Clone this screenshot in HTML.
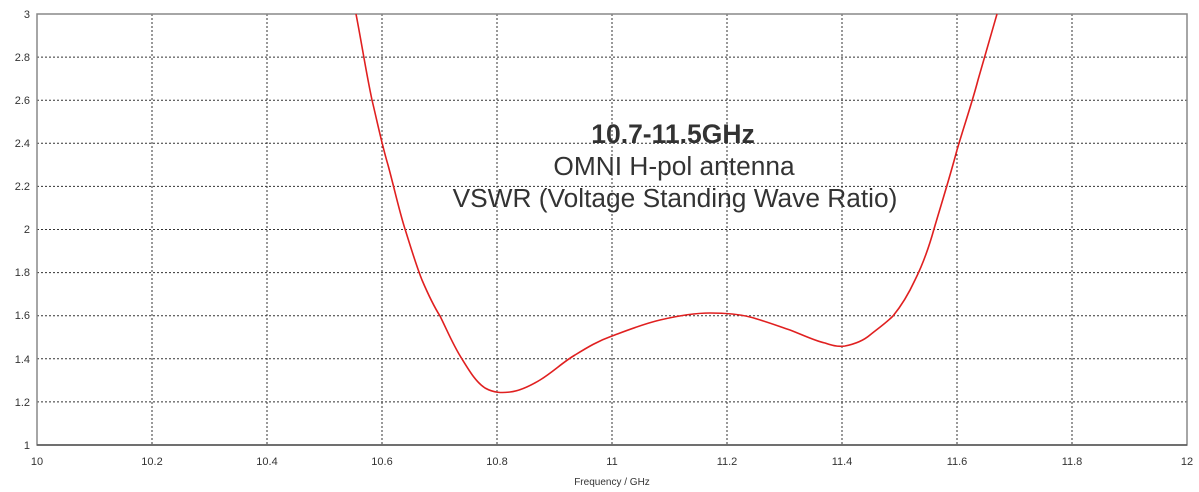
<!DOCTYPE html><html><head><style>body{margin:0;background:#fff}svg{display:block}text{font-family:"Liberation Sans",sans-serif}</style></head><body>
<svg width="1199" height="492" xmlns="http://www.w3.org/2000/svg">
<rect width="1199" height="492" fill="#fff"/>
<g stroke="#333" stroke-width="1" stroke-dasharray="2,2">
<line x1="152" y1="14" x2="152" y2="445"/><line x1="267" y1="14" x2="267" y2="445"/><line x1="382" y1="14" x2="382" y2="445"/><line x1="497" y1="14" x2="497" y2="445"/><line x1="612" y1="14" x2="612" y2="445"/><line x1="727" y1="14" x2="727" y2="445"/><line x1="842" y1="14" x2="842" y2="445"/><line x1="957" y1="14" x2="957" y2="445"/><line x1="1072" y1="14" x2="1072" y2="445"/>
<line x1="37" y1="57.1" x2="1187" y2="57.1"/><line x1="37" y1="100.2" x2="1187" y2="100.2"/><line x1="37" y1="143.3" x2="1187" y2="143.3"/><line x1="37" y1="186.4" x2="1187" y2="186.4"/><line x1="37" y1="229.5" x2="1187" y2="229.5"/><line x1="37" y1="272.6" x2="1187" y2="272.6"/><line x1="37" y1="315.7" x2="1187" y2="315.7"/><line x1="37" y1="358.8" x2="1187" y2="358.8"/><line x1="37" y1="401.9" x2="1187" y2="401.9"/>
</g>
<rect x="37" y="14" width="1150" height="431" fill="none" stroke="#888" stroke-width="1.5"/>
<line x1="37" y1="445" x2="1187" y2="445" stroke="#555" stroke-width="1.5"/>
<g font-size="11" fill="#333" text-anchor="end">
<text x="30" y="18">3</text><text x="30" y="61">2.8</text><text x="30" y="104">2.6</text><text x="30" y="147">2.4</text><text x="30" y="190">2.2</text><text x="30" y="233">2</text><text x="30" y="276">1.8</text><text x="30" y="319">1.6</text><text x="30" y="363">1.4</text><text x="30" y="406">1.2</text><text x="30" y="449">1</text>
</g>
<g font-size="11" fill="#333" text-anchor="middle">
<text x="37" y="465">10</text><text x="152" y="465">10.2</text><text x="267" y="465">10.4</text><text x="382" y="465">10.6</text><text x="497" y="465">10.8</text><text x="612" y="465">11</text><text x="727" y="465">11.2</text><text x="842" y="465">11.4</text><text x="957" y="465">11.6</text><text x="1072" y="465">11.8</text><text x="1187" y="465">12</text>
<text x="612" y="485" font-size="10">Frequency / GHz</text>
</g>
<g text-anchor="middle" fill="#333">
<text x="673" y="143" font-size="26.5" font-weight="bold">10.7-11.5GHz</text>
<text x="674" y="175" font-size="26.3">OMNI H-pol antenna</text>
<text x="675" y="207" font-size="26.3">VSWR (Voltage Standing Wave Ratio)</text>
</g>
<path d="M356,14 C362,45 366,72 372,100 C378,125 382,145 388,165 C394,187 399,210 405,229 C411,248 416,265 422,280 C428,294 433,305 440,316 C447,330 453,345 462,359 C470,372 476,382 485,388 C494,393 502,393 510,392 C520,391 530,386 540,380 C553,372 563,362 575,355 C588,347 598,341 612,336 C628,330 643,324 660,320 C677,316 693,313 710,313 C726,313 738,314 750,317 C765,321 778,326 790,330 C803,335 815,341 825,343 C833,346 839,347 845,346 C855,344 863,341 870,335 C880,327 886,323 893,316 C902,305 909,293 915,280 C923,264 929,247 934,229 C941,205 949,180 957,150 C964,126 972,103 978,80 C985,55 991,35 997,14" fill="none" stroke="#e02020" stroke-width="1.6"/>
</svg>
</body></html>
